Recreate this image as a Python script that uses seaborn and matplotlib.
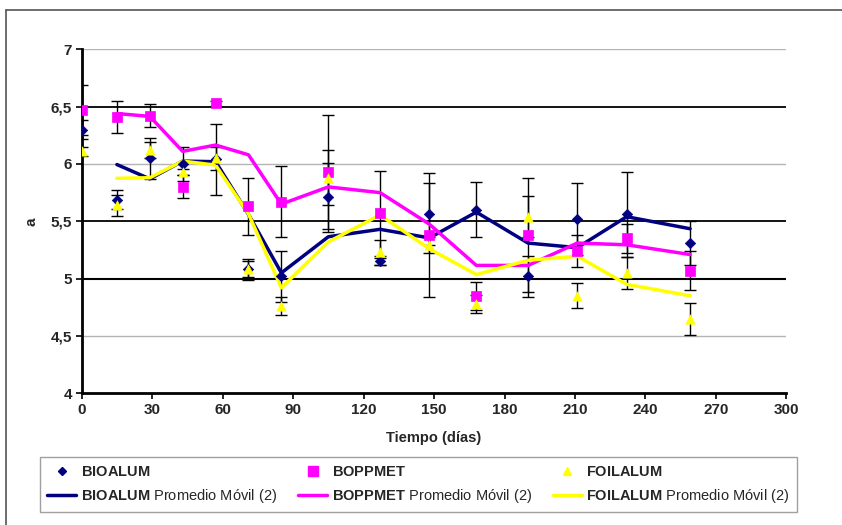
import numpy as np
import pandas as pd
import matplotlib.pyplot as plt
import matplotlib.lines as mlines
from matplotlib.ticker import FuncFormatter
import seaborn as sns

# days of storage
dias = [0, 15, 29, 43, 57, 71, 85, 105, 127, 148, 168, 190, 211, 232, 259]

# colour coordinate a
bioalum = [6.30, 5.69, 6.05, 6.00, 6.04, 5.08, 5.02, 5.71, 5.15, 5.56, 5.60, 5.02, 5.52, 5.56, 5.31]
boppmet = [6.47, 6.41, 6.42, 5.80, 6.53, 5.63, 5.67, 5.93, 5.57, 5.38, 4.85, 5.38, 5.24, 5.35, 5.07]
foilalum = [6.11, 5.64, 6.12, 5.93, 6.05, 5.08, 4.76, 5.88, 5.23, 5.29, 4.78, 5.54, 4.85, 5.05, 4.65]

# error bars (half width)
bioalum_err = [0.08, 0.08, 0.18, 0.15, 0.31, 0.09, 0.22, 0.30, 0.03, 0.27, 0.24, 0.18, 0.31, 0.37, 0.19]
boppmet_err = [0.22, 0.14, 0.10, 0.10, 0.02, 0.25, 0.31, 0.50, 0.37, 0.54, 0.12, 0.50, 0.14, 0.13, 0.17]
foilalum_err = [0.04, 0.09, 0.07, 0.03, 0.10, 0.07, 0.08, 0.24, 0.11, 0.07, 0.08, 0.18, 0.11, 0.14, 0.14]

series = ['BIOALUM', 'BOPPMET', 'FOILALUM']
colores = {'BIOALUM': '#000080', 'BOPPMET': '#FF00FF', 'FOILALUM': '#FFFF00'}
marcas = {'BIOALUM': 'D', 'BOPPMET': 's', 'FOILALUM': '^'}
tamanos = {'BIOALUM': 28, 'BOPPMET': 55, 'FOILALUM': 45}

df = pd.DataFrame({'dias': dias, 'BIOALUM': bioalum, 'BOPPMET': boppmet, 'FOILALUM': foilalum})
errs = {'BIOALUM': bioalum_err, 'BOPPMET': boppmet_err, 'FOILALUM': foilalum_err}

sns.set_style('white')
plt.rcParams['font.family'] = ['Liberation Sans', 'DejaVu Sans']
plt.rcParams['mathtext.fontset'] = 'custom'
plt.rcParams['mathtext.rm'] = 'Liberation Sans'
plt.rcParams['mathtext.bf'] = 'Liberation Sans:bold'

fig = plt.figure(figsize=(8.42, 5.25), dpi=100)
ax = fig.add_axes([0.097, 0.251, 0.837, 0.655])

# grid lines (some dark, some light as in the original)
for y, c, lw in [(7, '#b4b4b4', 1.0), (6.5, 'black', 1.3), (6, '#b4b4b4', 1.0),
                 (5.5, 'black', 1.3), (5, 'black', 1.5), (4.5, '#b4b4b4', 1.0)]:
    ax.axhline(y, color=c, lw=lw, zorder=0)

# error bars first
for s in series:
    ax.errorbar(df['dias'], df[s], yerr=errs[s], fmt='none', ecolor='black',
                elinewidth=1.0, capsize=4, capthick=1.0, zorder=2)

# moving average (period 2) trend lines
for s in series:
    mov = df[s].rolling(2).mean()
    sns.lineplot(x=df['dias'], y=mov, ax=ax, color=colores[s], lw=2.5, zorder=3)

for s in series:
    sns.scatterplot(x=df['dias'], y=df[s], ax=ax, marker=marcas[s], s=tamanos[s],
                    color=colores[s], edgecolor=colores[s], linewidth=0.5, zorder=4)

ax.set_xlim(0, 300)
ax.set_ylim(4, 7)
ax.set_xticks(range(0, 301, 30))
ax.set_yticks([4, 4.5, 5, 5.5, 6, 6.5, 7])
ax.yaxis.set_major_formatter(FuncFormatter(lambda v, p: ('%g' % v).replace('.', ',')))
for lab in ax.get_xticklabels() + ax.get_yticklabels():
    lab.set_fontweight('bold')
    lab.set_fontsize(11)
ax.tick_params(axis='both', direction='out', length=4, width=1.2, color='black', pad=3)
ax.tick_params(axis='both', which='both', bottom=True, left=True)

for side in ['top', 'right']:
    ax.spines[side].set_visible(False)
for side in ['left', 'bottom']:
    ax.spines[side].set_color('black')
    ax.spines[side].set_linewidth(2)

ax.set_xlabel('Tiempo (días)', fontweight='bold', fontsize=10.5, labelpad=10)
ax.set_ylabel('a', fontsize=11, fontweight='bold', labelpad=9)

# legend
h = []
for s in series:
    h.append(mlines.Line2D([], [], ls='none', marker=marcas[s], color=colores[s],
                           markersize={'BIOALUM': 4.5, 'BOPPMET': 6.5, 'FOILALUM': 6}[s],
                           label=r'$\mathbf{%s}$' % s))
    h.append(mlines.Line2D([], [], color=colores[s], lw=2.5,
                           label=r'$\mathbf{%s}$ Promedio Móvil (2)' % s))
leg = fig.legend(handles=h, ncol=3, loc='lower left', bbox_to_anchor=(40 / 842, 13 / 525, 757 / 842, 57 / 525),
                 mode='expand', frameon=True, fancybox=False, shadow=False, fontsize=10.5,
                 handlelength=2.0, handletextpad=0.3, borderpad=0.5, labelspacing=0.55,
                 borderaxespad=0, columnspacing=1.0)
leg.get_frame().set_edgecolor('#888888')
leg.get_frame().set_linewidth(1.0)

# outer chart frame
fig.add_artist(mlines.Line2D([6 / 842, 1], [1 - 10 / 525, 1 - 10 / 525], color='#555555', lw=1.2))
fig.add_artist(mlines.Line2D([6 / 842, 6 / 842], [0, 1 - 10 / 525], color='#555555', lw=1.2))

fig.savefig('out.png', dpi=100)
